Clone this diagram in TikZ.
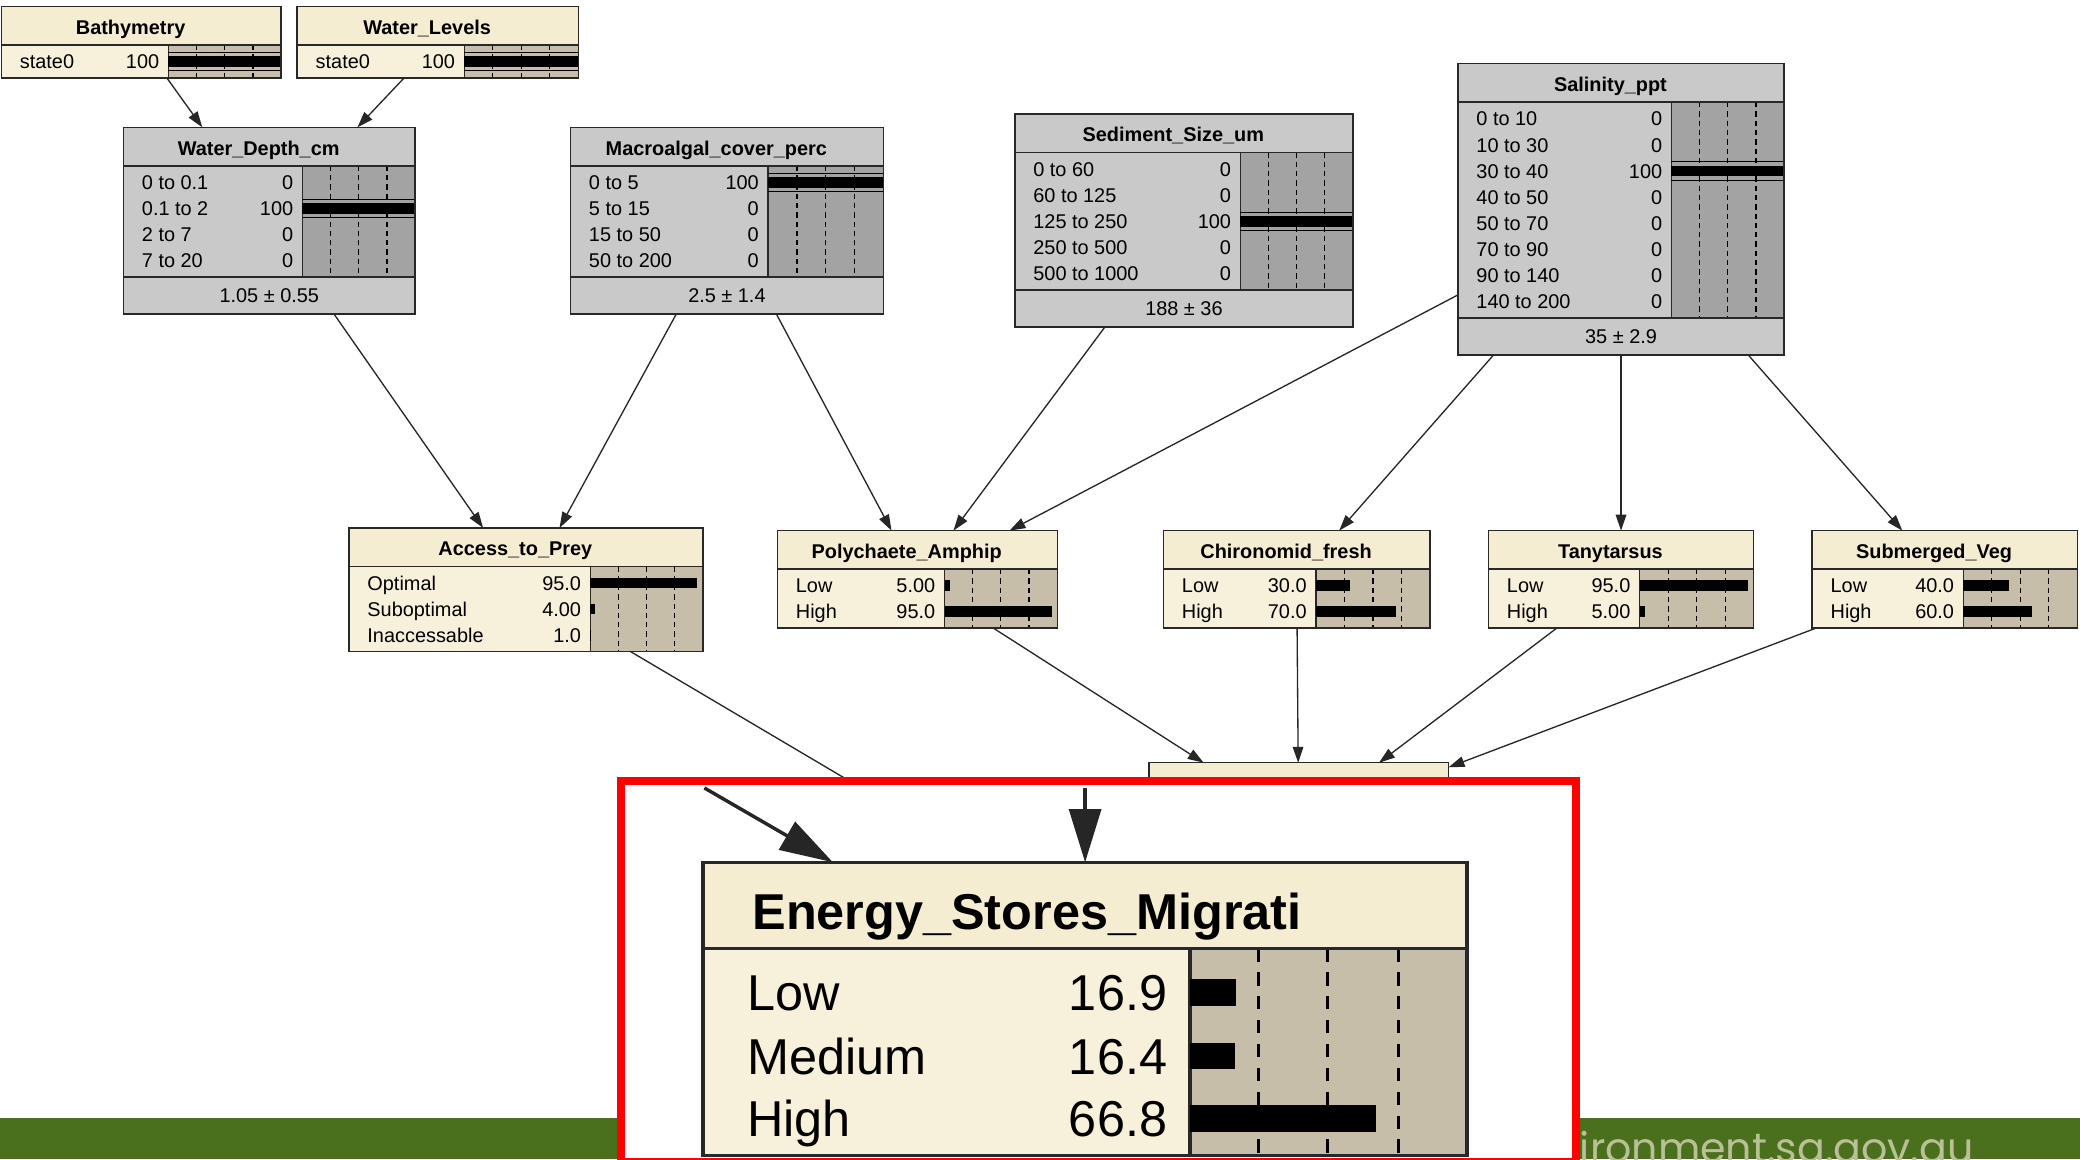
\documentclass[tikz,border=0pt]{standalone}
\usepackage{fontspec}
\setmainfont{Liberation Sans}
\newfontfamily\urlfamily{Poppins}
\usetikzlibrary{arrows.meta}
\definecolor{crtitle}{RGB}{245,237,210}
\definecolor{crbody}{RGB}{247,240,218}
\definecolor{crbar}{RGB}{198,190,168}
\definecolor{gytitle}{RGB}{201,201,201}
\definecolor{gybody}{RGB}{201,201,201}
\definecolor{gybar}{RGB}{163,163,163}
\definecolor{edgecol}{RGB}{40,40,40}
\definecolor{footgreen}{RGB}{74,112,30}
\definecolor{urlcol}{RGB}{186,192,150}
\definecolor{framered}{RGB}{255,0,0}
\newcommand\rowfont{\fontsize{15}{17}\selectfont}
\newcommand\ttlfont{\fontsize{15}{17}\selectfont\bfseries}
\newcommand\bigrowfont{\fontsize{38}{40}\selectfont}
\newcommand\bigttlfont{\fontsize{38}{40}\selectfont\bfseries}
% one Netica box: name, left, top, width, bar start, rows, title, colour set, mean
\newcommand{\bnbox}[9]{%
  \pgfmathsetmacro{\nbX}{#2}\pgfmathsetmacro{\nbY}{#3}%
  \pgfmathsetmacro{\nbW}{#4}\pgfmathsetmacro{\nbB}{#5}%
  \pgfmathsetmacro{\nbR}{#2+#4}%
  \pgfmathsetmacro{\nbT}{#3+29}%
  \pgfmathsetmacro{\nbE}{\nbT+19.7*#6+5}%
  \def\nbN{#1}\def\nbMean{#9}%
  \ifx\nbMean\empty\pgfmathsetmacro{\nbBot}{\nbE}\else\pgfmathsetmacro{\nbBot}{\nbE+28}\fi
  \pgfmathsetmacro{\nbH}{\nbBot-\nbY}%
  \node[fill=#8body,minimum width=\nbW pt,minimum height=\nbH pt,anchor=north west,
    inner sep=0pt,outer sep=0pt] (#1) at (\nbX,\nbY) {};
  \fill[#8title] (\nbX,\nbY) rectangle (\nbR,\nbT);
  \fill[#8bar] (\nbB,\nbT) rectangle (\nbR,\nbE);
  \foreach \f in {0.25,0.5,0.75}
    \draw[dashtick] ({\nbB+\f*(\nbR-\nbB)},\nbT) -- ({\nbB+\f*(\nbR-\nbB)},\nbE);
  \draw[boxline] (\nbX,\nbT) -- (\nbR,\nbT) (\nbB,\nbT) -- (\nbB,\nbE);
  \ifx\nbMean\empty\else
    \draw[boxline] (\nbX,\nbE) -- (\nbR,\nbE);
    \node[txt,anchor=base] (#1-m) at ({\nbX+\nbW/2},{\nbE+19}) {#9};
  \fi
  \node[txt,font=\ttlfont,anchor=base] (#1-t) at ({\nbX+\nbW/2-8},{\nbY+21}) {#7};
}
% one state row: index, label, value, percent
\newcommand{\bnrow}[4]{%
  \pgfmathsetmacro{\nbRy}{\nbT+12.5+19.7*(#1-1)}%
  \node[txt,anchor=base west] (\nbN-l#1) at ({\nbX+14},{\nbRy+5.4}) {#2};
  \node[txt,anchor=base east] (\nbN-v#1) at ({\nbB-7},{\nbRy+5.4}) {#3};
  \ifdim#4pt>0pt \fill[black] (\nbB,{\nbRy-4}) rectangle ({\nbB+#4/100*(\nbR-\nbB)},{\nbRy+4});\fi
  \ifdim#4pt=100pt \draw[line width=0.7pt] (\nbB,{\nbRy-7}) -- (\nbR,{\nbRy-7}) (\nbB,{\nbRy+7}) -- (\nbR,{\nbRy+7});\fi
}
\newcommand{\bnclose}{\draw[boxline] (\nbN.north west) rectangle (\nbN.south east);}
\begin{document}
\begin{tikzpicture}[x=1pt,y=-1pt,
  boxline/.style={draw=edgecol,line width=1.1pt},
  dashtick/.style={draw=black,line width=0.9pt,dash pattern=on 4pt off 3pt},
  txt/.style={inner sep=0pt,outer sep=0pt,font=\rowfont,text=black},
  arr/.style={draw=black!85,line width=1pt,-{Triangle[length=12pt,width=8pt]}},
  bigline/.style={draw=edgecol,line width=2.6pt},
  bigtick/.style={draw=black,line width=2.2pt,dash pattern=on 10pt off 8pt},
  bigarr/.style={draw=black!85,line width=2.6pt,-{Triangle[length=40pt,width=24pt]}}]
\useasboundingbox (0,0) rectangle (1568,874);
% footer band
\fill[footgreen] (0,843) rectangle (1568,874);
\node[font=\urlfamily\fontsize{31}{33}\selectfont,text=urlcol,anchor=base east,inner sep=0pt]
  (url) at (1488,876) {environment.sa.gov.au};

% top row
\bnbox{bathy}{1}{5}{211}{127}{1}{Bathymetry}{cr}{}
\bnrow{1}{state0}{100}{100}
\bnclose
\bnbox{wlevels}{224}{5}{212}{350}{1}{Water\_Levels}{cr}{}
\bnrow{1}{state0}{100}{100}
\bnclose

% inputs
\bnbox{wdepth}{93}{96}{220}{228}{4}{Water\_Depth\_cm}{gy}{1.05 ± 0.55}
\bnrow{1}{0 to 0.1}{0}{0}
\bnrow{2}{0.1 to 2}{100}{100}
\bnrow{3}{2 to 7}{0}{0}
\bnrow{4}{7 to 20}{0}{0}
\bnclose
\bnbox{macro}{430}{96}{236}{579}{4}{Macroalgal\_cover\_perc}{gy}{2.5 ± 1.4}
\bnrow{1}{0 to 5}{100}{100}
\bnrow{2}{5 to 15}{0}{0}
\bnrow{3}{15 to 50}{0}{0}
\bnrow{4}{50 to 200}{0}{0}
\bnclose
\bnbox{sediment}{765}{86}{255}{935}{5}{Sediment\_Size\_um}{gy}{188 ± 36}
\bnrow{1}{0 to 60}{0}{0}
\bnrow{2}{60 to 125}{0}{0}
\bnrow{3}{125 to 250}{100}{100}
\bnrow{4}{250 to 500}{0}{0}
\bnrow{5}{500 to 1000}{0}{0}
\bnclose
\bnbox{salinity}{1099}{48}{246}{1260}{8}{Salinity\_ppt}{gy}{35 ± 2.9}
\bnrow{1}{0 to 10}{0}{0}
\bnrow{2}{10 to 30}{0}{0}
\bnrow{3}{30 to 40}{100}{100}
\bnrow{4}{40 to 50}{0}{0}
\bnrow{5}{50 to 70}{0}{0}
\bnrow{6}{70 to 90}{0}{0}
\bnrow{7}{90 to 140}{0}{0}
\bnrow{8}{140 to 200}{0}{0}
\bnclose

% middle row
\bnbox{access}{263}{398}{267}{445}{3}{Access\_to\_Prey}{cr}{}
\bnrow{1}{Optimal}{95.0}{95}
\bnrow{2}{Suboptimal}{4.00}{4}
\bnrow{3}{Inaccessable}{1.0}{1}
\bnclose
\bnbox{poly}{586}{400}{211}{712}{2}{Polychaete\_Amphip}{cr}{}
\bnrow{1}{Low}{5.00}{5}
\bnrow{2}{High}{95.0}{95}
\bnclose
\bnbox{chiro}{877}{400}{201}{992}{2}{Chironomid\_fresh}{cr}{}
\bnrow{1}{Low}{30.0}{30}
\bnrow{2}{High}{70.0}{70}
\bnclose
\bnbox{tany}{1122}{400}{200}{1236}{2}{Tanytarsus}{cr}{}
\bnrow{1}{Low}{95.0}{95}
\bnrow{2}{High}{5.00}{5}
\bnclose
\bnbox{subveg}{1366}{400}{200}{1480}{2}{Submerged\_Veg}{cr}{}
\bnrow{1}{Low}{40.0}{40}
\bnrow{2}{High}{60.0}{60}
\bnclose

% output, mostly under the frame
\node[fill=crtitle,draw=edgecol,line width=1.1pt,minimum width=226pt,minimum height=92pt,
  anchor=north west,inner sep=0pt,outer sep=0pt] (energy) at (866,575) {};
\coordinate (hid) at (700,624);

\draw[arr] (bathy) -- (wdepth);
\draw[arr] (wlevels) -- (wdepth);
\draw[arr] (wdepth) -- (access);
\draw[arr] (macro) -- (access);
\draw[arr] (macro) -- (poly);
\draw[arr] (sediment) -- (poly);
\draw[arr] (salinity) -- (poly);
\draw[arr] (salinity) -- (chiro);
\draw[arr] (salinity) -- (tany);
\draw[arr] (salinity) -- (subveg);
\draw[arr] (access) -- (hid);
\draw[arr] (poly) -- (energy);
\draw[arr] (chiro) -- (energy);
\draw[arr] (tany) -- (energy);
\draw[arr] (subveg) -- (energy);

% zoom frame
\filldraw[fill=white,draw=framered,line width=6pt] (468,589) rectangle (1188,876);
\node[fill=crbody,minimum width=576pt,minimum height=221pt,anchor=north west,
  inner sep=0pt,outer sep=0pt] (ebig) at (530,650) {};
\fill[crtitle] (530,650) rectangle (1106,715);
\fill[crbar] (897,715) rectangle (1106,871);
\foreach \xx in {949,1001,1054} \draw[bigtick] (\xx,715) -- (\xx,871);
\draw[bigline] (530,715) -- (1106,715) (897,715) -- (897,871);
\node[inner sep=0pt,font=\bigttlfont,anchor=base west] (ebig-t) at (567,701) {Energy\_Stores\_Migrati};
\node[inner sep=0pt,font=\bigrowfont,anchor=base west] (ebig-l1) at (563,762) {Low};
\node[inner sep=0pt,font=\bigrowfont,anchor=base west] (ebig-l2) at (563,810) {Medium};
\node[inner sep=0pt,font=\bigrowfont,anchor=base west] (ebig-l3) at (563,857) {High};
\node[inner sep=0pt,font=\bigrowfont,anchor=base east] (ebig-v1) at (880,762) {16.9};
\node[inner sep=0pt,font=\bigrowfont,anchor=base east] (ebig-v2) at (880,810) {16.4};
\node[inner sep=0pt,font=\bigrowfont,anchor=base east] (ebig-v3) at (880,857) {66.8};
\fill[black] (897,738) rectangle (932,758);
\fill[black] (897,786) rectangle (931,806);
\fill[black] (897,833) rectangle (1037,853);
\draw[bigline] (ebig.north west) rectangle (ebig.south east);
\coordinate (zin1) at (531,594);
\coordinate (zin2) at (818,594);
\draw[bigarr] (zin1) -- (ebig);
\draw[bigarr] (zin2) -- (ebig);
\end{tikzpicture}
\end{document}
